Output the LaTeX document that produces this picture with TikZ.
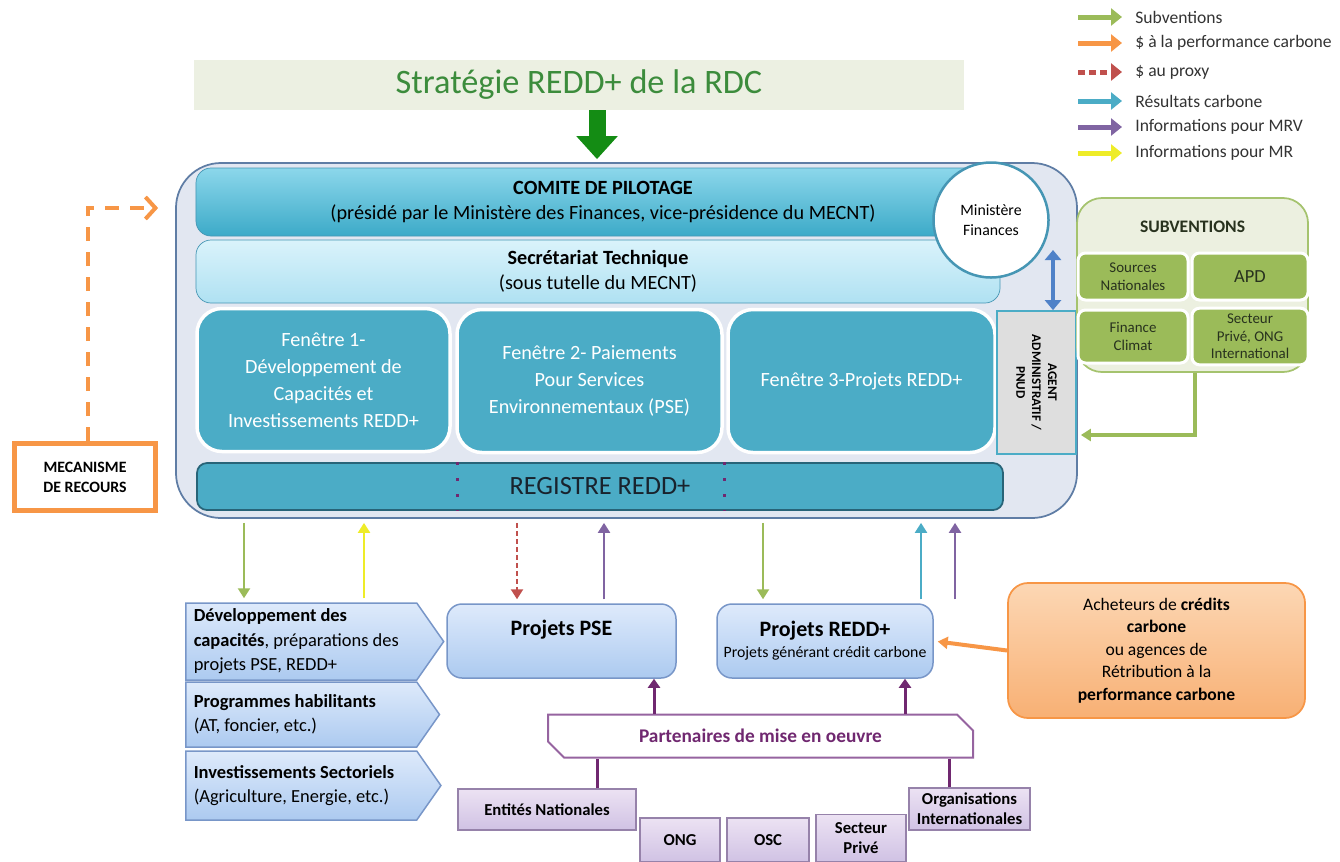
\documentclass[tikz,border=0pt]{standalone}
\usepackage{fontspec}
\setmainfont{Carlito}
\usetikzlibrary{arrows.meta,shapes.symbols,shapes.misc,positioning}

\definecolor{subvgreen}{RGB}{155,187,89}
\definecolor{perforange}{RGB}{247,150,70}
\definecolor{proxyred}{RGB}{192,80,77}
\definecolor{resteal}{RGB}{75,172,198}
\definecolor{mrvpurple}{RGB}{128,100,162}
\definecolor{mryellow}{RGB}{238,236,40}
\definecolor{fenteal}{RGB}{75,172,198}
\definecolor{darkpurple}{RGB}{112,40,112}
\definecolor{titlegreen}{RGB}{60,140,60}
\definecolor{titlefill}{RGB}{236,240,226}
\definecolor{arrowgreen}{RGB}{20,140,20}
\definecolor{contfill}{RGB}{226,231,241}
\definecolor{contborder}{RGB}{95,125,165}
\definecolor{comitetop}{RGB}{140,215,235}
\definecolor{comitebot}{RGB}{60,170,200}
\definecolor{comiteborder}{RGB}{70,150,180}
\definecolor{secrtop}{RGB}{218,243,251}
\definecolor{secrbot}{RGB}{175,225,242}
\definecolor{agentgray}{RGB}{222,222,222}
\definecolor{regborder}{RGB}{40,100,120}
\definecolor{regtext}{RGB}{25,35,45}
\definecolor{dblblue}{RGB}{80,130,200}
\definecolor{subvfill}{RGB}{236,240,224}
\definecolor{subvborder}{RGB}{165,195,110}
\definecolor{subvtext}{RGB}{40,50,30}
\definecolor{sigtop}{RGB}{222,234,251}
\definecolor{sigbot}{RGB}{172,202,240}
\definecolor{sigborder}{RGB}{120,150,200}
\definecolor{achtop}{RGB}{252,215,180}
\definecolor{achbot}{RGB}{248,176,116}
\definecolor{partborder}{RGB}{150,100,160}
\definecolor{purtop}{RGB}{236,226,243}
\definecolor{purbot}{RGB}{208,194,228}
\definecolor{purborder}{RGB}{150,130,170}

\begin{document}
\begin{tikzpicture}[x=0.2mm, y=-0.2mm,
    legtext/.style={anchor=west, inner sep=0pt, font=\fontsize{10}{12}\selectfont, text=black!80},
    legarrow/.style={line width=1mm, -{Triangle[length=2.2mm,width=3.4mm]}},
    titleband/.style={fill=titlefill, minimum width=154mm, minimum height=10mm, text=titlegreen, font=\fontsize{19.5}{22}\selectfont},
    bigarrow/.style={draw=arrowgreen, line width=3.4mm, -{Triangle[length=4.6mm,width=8mm]}},
    container/.style={draw=contborder, line width=0.35mm, fill=contfill, rounded corners=9mm, minimum width=180.2mm, minimum height=71mm},
    comite/.style={draw=comiteborder, top color=comitetop, bottom color=comitebot, rounded corners=3mm, minimum width=162.8mm, minimum height=13.6mm, align=center, font=\fontsize{11.5}{14}\selectfont},
    secr/.style={draw=comiteborder, top color=secrtop, bottom color=secrbot, rounded corners=3mm, minimum width=160.8mm, minimum height=12.6mm, align=center, font=\fontsize{11.5}{14}\selectfont},
    fenbox/.style={fill=fenteal, draw=white, line width=0.7mm, rounded corners=5mm, text=white, align=center, minimum height=28.6mm, font=\fontsize{11.5}{15.3}\selectfont},
    agentbox/.style={fill=agentgray, draw=resteal, line width=0.35mm, minimum width=15.8mm, minimum height=28.6mm},
    registre/.style={fill=fenteal, draw=regborder, line width=0.35mm, rounded corners=2mm, minimum width=161.2mm, minimum height=9.4mm, text=regtext, font=\fontsize{15}{18}\selectfont},
    dotline/.style={draw=darkpurple, line width=0.6mm, dash pattern=on 0.6mm off 2.6mm},
    minfin/.style={circle, draw=comiteborder, line width=0.5mm, fill=white, minimum size=23mm, align=center, font=\fontsize{9}{11}\selectfont},
    dblarrow/.style={draw=dblblue, line width=0.8mm, {Triangle[length=2mm,width=3.2mm]}-{Triangle[length=2mm,width=3.2mm]}},
    subvbox/.style={draw=subvborder, line width=0.35mm, fill=subvfill, rounded corners=5mm, minimum width=46.2mm, minimum height=34.8mm},
    subvin/.style={fill=subvgreen, draw=white, line width=0.6mm, rounded corners=1.5mm, align=center, text=subvtext, font=\fontsize{8.5}{10}\selectfont},
    mecbox/.style={draw=perforange, line width=1mm, fill=white, minimum width=28.2mm, minimum height=13.4mm, align=center, font=\bfseries\fontsize{9}{11.5}\selectfont},
    recours/.style={draw=perforange, line width=0.8mm, dash pattern=on 2.8mm off 2.2mm, -{Straight Barb[length=2mm,width=4.4mm]}},
    flow/.style={line width=0.45mm, -{Triangle[length=2mm,width=2.4mm]}, shorten <=0.8mm, shorten >=0.8mm},
    sig/.style={signal, signal to=east, signal pointer angle=110, anchor=west, top color=sigtop, bottom color=sigbot, draw=sigborder, line width=0.3mm, inner xsep=1.6mm, inner ysep=0.8mm, text width=43mm, align=flush left, font=\fontsize{10.5}{13.9}\selectfont},
    projet/.style={rounded corners=3mm, top color=sigtop, bottom color=sigbot, draw=sigborder, line width=0.3mm, minimum height=14.8mm, align=center},
    acheteur/.style={rounded corners=4mm, top color=achtop, bottom color=achbot, draw=perforange, line width=0.35mm, minimum width=59.4mm, minimum height=27mm, align=center, font=\fontsize{10}{12.8}\selectfont},
    partenaire/.style={chamfered rectangle, chamfered rectangle corners={north east, south west}, chamfered rectangle sep=1.6mm, draw=partborder, line width=0.4mm, fill=white, minimum width=85mm, minimum height=8.6mm, text=darkpurple, font=\bfseries\fontsize{11}{13}\selectfont},
    pflow/.style={draw=darkpurple, line width=0.6mm, -{Triangle[length=1.8mm,width=2.4mm]}},
    pline/.style={draw=darkpurple, line width=0.6mm},
    acteur/.style={top color=purtop, bottom color=purbot, draw=purborder, line width=0.3mm, align=center, inner sep=0.5mm, font=\bfseries\fontsize{9.5}{11.5}\selectfont}]

    \useasboundingbox (0,0) rectangle (1340,861);

    % legend
    \foreach \i/\y/\col/\txt in {1/17/subvgreen/Subventions, 2/43/perforange/\$ à la performance carbone,
        3/72/proxyred/\$ au proxy, 4/101/resteal/Résultats carbone,
        5/127/mrvpurple/Informations pour MRV, 6/153/mryellow/Informations pour MR}
        \node[legtext] (leg\i) at (1135,\y) {\txt};
    \foreach \i/\col in {1/subvgreen,2/perforange,4/resteal,5/mrvpurple,6/mryellow}
        \draw[legarrow,\col] ([xshift=-11.4mm]leg\i.west) -- ([xshift=-2.6mm]leg\i.west);
    \draw[legarrow,proxyred,dash pattern=on 1.4mm off 0.8mm] ([xshift=-11.4mm]leg3.west) -- ([xshift=-2.6mm]leg3.west);

    % strategie
    \node[titleband] (title) at (579,85) {Stratégie REDD+ de la RDC};

    % fonds national
    \node[container] (cont) at (626.5,340.5) {};
    \draw[bigarrow] (title.south -| 597,0) -- ([yshift=0.6mm]cont.north -| 597,0);
    \node[comite] (comite) at (603,202)
        {\textbf{COMITE DE PILOTAGE}\\(présidé par le Ministère des Finances, vice-présidence du MECNT)};
    \node[secr] (secr) at (598,271.5) {\textbf{Secrétariat Technique}\\(sous tutelle du MECNT)};
    \node[minfin] (minfin) at (991,220) {Ministère\\Finances};

    \node[fenbox, minimum width=50.6mm] (fen1) at (323.5,380)
        {Fenêtre 1-\\Développement de\\Capacités et\\Investissements REDD+};
    \node[fenbox, minimum width=53mm] (fen2) at (589.5,381)
        {Fenêtre 2- Paiements\\Pour Services\\Environnementaux (PSE)};
    \node[fenbox, minimum width=53.4mm] (fen3) at (861.5,381) {Fenêtre 3-Projets REDD+};
    \node[agentbox] (agent) at (1036.5,382.5) {};
    \node[rotate=-90, align=center, font=\bfseries\fontsize{7.5}{9}\selectfont] (agenttxt) at (agent.center)
        {AGENT\\ADMINISTRATIF /\\PNUD};
    \draw[dblarrow] ([yshift=-6mm]minfin.east -| 1053,0) -- (agent.north -| 1053,0);

    \node[registre] (reg) at (600,486.5) {REGISTRE REDD+};
    \foreach \x in {457,724}
        \draw[dotline] (reg.north -| \x,0) -- (reg.south -| \x,0);

    % subventions
    \node[subvbox] (subv) at (1192.5,285) {};
    \node[font=\bfseries\fontsize{10}{12}\selectfont, text=subvtext] (subvtitle) at (1192.5,227) {SUBVENTIONS};
    \node[subvin, minimum width=22mm, minimum height=9.4mm] (src) at (1133,276.5) {Sources\\Nationales};
    \node[subvin, minimum width=23.2mm, minimum height=9.4mm, font=\fontsize{10.5}{12}\selectfont] (apd) at (1250,276.5) {APD};
    \node[subvin, minimum width=22mm, minimum height=10.6mm] (fin) at (1133,336.5) {Finance\\Climat};
    \node[subvin, minimum width=23.2mm, minimum height=10.6mm] (priv) at (1250,336.5) {Secteur\\Privé, ONG\\International};
    \draw[flow, subvgreen, line width=0.7mm, shorten <=0pt] (subv.south -| 1195,0) |- (agent.east |- 0,435);

    % mecanisme de recours
    \node[mecbox] (mec) at (85,477) {MECANISME\\DE RECOURS};
    \draw[recours] (mec.north -| 88,0) |- ([xshift=-3.4mm]cont.west |- 0,208);

    % guichets
    \node[sig, minimum height=15.4mm] (devcap) at (185,641.5)
        {\textbf{Développement des}\\\textbf{capacités}, préparations des\\projets PSE, REDD+};
    \node[sig, minimum height=13mm] (prog) at (185,714.5)
        {\textbf{Programmes habilitants}\\(AT, foncier, etc.)};
    \node[sig, minimum height=13.8mm] (invest) at (185,785.5)
        {\textbf{Investissements Sectoriels}\\(Agriculture, Energie, etc.)};

    \node[projet, minimum width=45.8mm] (pse) at (561.5,641)
        {\fontsize{12.5}{15}\selectfont\textbf{Projets PSE}\\\strut};
    \node[projet, minimum width=43.2mm] (redd) at (825,641)
        {\fontsize{12.5}{15}\selectfont\textbf{Projets REDD+}\\\fontsize{9}{11}\selectfont Projets générant crédit carbone};
    \node[acheteur] (ach) at (1156.5,650.5)
        {Acheteurs de \textbf{crédits}\\\textbf{carbone}\\ou agences de\\Rétribution à la\\\textbf{performance carbone}};

    % flux
    \draw[flow, subvgreen] (cont.south -| 244,0) -- (devcap.north -| 244,0);
    \draw[flow, mryellow] (devcap.north -| 364,0) -- (cont.south -| 364,0);
    \draw[flow, proxyred, dash pattern=on 1mm off 0.6mm] (cont.south -| 517,0) -- (pse.north -| 517,0);
    \draw[flow, mrvpurple] (pse.north -| 604,0) -- (cont.south -| 604,0);
    \draw[flow, subvgreen] (cont.south -| 763,0) -- (redd.north -| 763,0);
    \draw[flow, resteal] (redd.north -| 921,0) -- (cont.south -| 921,0);
    \draw[flow, mrvpurple] (redd.north -| 955,0) -- (cont.south -| 955,0);
    \draw[flow, perforange, line width=0.8mm, shorten <=0pt] (ach.west) -- (redd.east);

    % partenaires
    \node[partenaire] (part) at (760.5,736) {Partenaires de mise en oeuvre};
    \draw[pflow] (part.north -| 654,0) -- (pse.south -| 654,0);
    \draw[pflow] (part.north -| 905,0) -- (redd.south -| 905,0);

    \node[acteur, minimum width=35.6mm, minimum height=8.2mm] (ent) at (547,809.5) {Entités Nationales};
    \node[acteur, minimum width=16mm, minimum height=8.8mm] (ong) at (680,840) {ONG};
    \node[acteur, minimum width=16.4mm, minimum height=8.8mm] (osc) at (768,840) {OSC};
    \node[acteur, minimum width=18mm, minimum height=9.4mm] (sprive) at (861,838) {Secteur\\Privé};
    \node[acteur, minimum width=24.2mm, minimum height=8.4mm] (org) at (969.5,809) {Organisations\\Internationales};
    \draw[pline] (ent.north -| 597,0) -- (part.south -| 597,0);
    \draw[pline] (org.north -| 949,0) -- (part.south -| 949,0);
\end{tikzpicture}
\end{document}
